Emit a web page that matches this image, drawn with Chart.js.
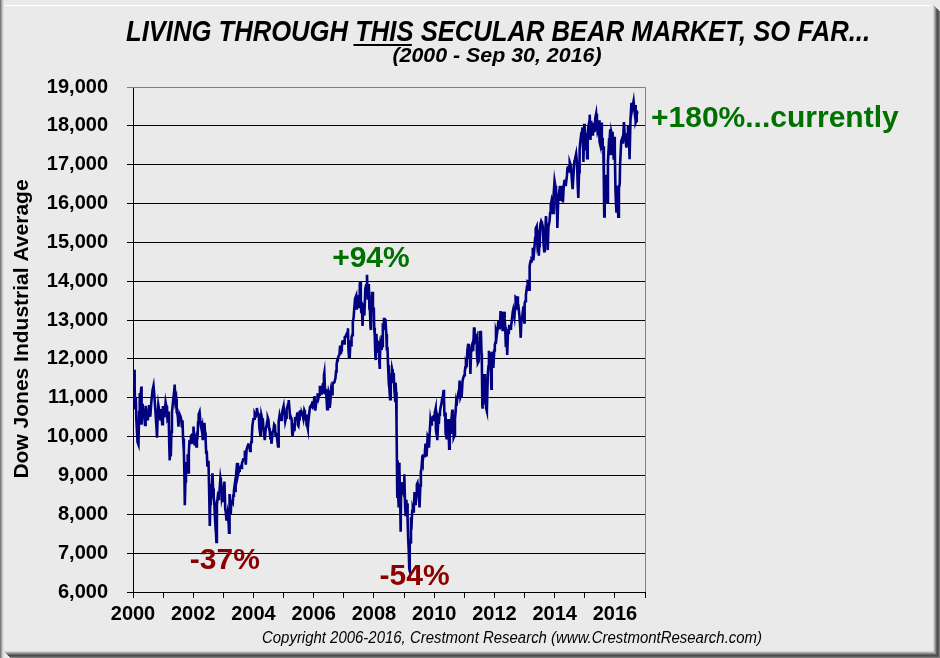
<!DOCTYPE html>
<html>
<head>
<meta charset="utf-8">
<script src="https://cdn.jsdelivr.net/npm/chart.js@4.4.0/dist/chart.umd.min.js"></script>
<style>
  html, body { margin: 0; padding: 0; background: #eaeaea; }
  canvas { display: block; }
</style>
</head>
<body>
<canvas id="dowChart" width="940" height="658"></canvas>
<script>
// Dow Jones Industrial Average, closes: [month-day, close]
const dj2000 = [['01-03',11357],['01-14',11723],['01-21',11251],['01-28',10739],['02-04',11013],['02-11',10425],['02-25',9862],['03-07',9796],['03-16',10630],['03-23',11120],['03-31',10922],['04-11',11287],['04-14',10306],['04-20',10844],['04-28',10734],['05-12',10609],['05-26',10300],['06-02',10794],['06-16',10449],['06-30',10448],['07-14',10812],['07-28',10511],['08-11',10908],['08-25',11192],['09-06',11310],['09-15',11087],['09-29',10651],['10-13',10193],['10-18',9975],['10-27',10590],['11-03',10817],['11-17',10629],['11-30',10415],['12-08',10712],['12-20',10318],['12-29',10787]];
const dj2001 = [['01-05',10662],['01-12',10526],['01-19',10587],['01-31',10887],['02-09',10781],['02-16',10799],['02-23',10441],['03-02',10466],['03-09',10644],['03-16',9823],['03-22',9389],['03-30',9879],['04-04',9485],['04-12',10127],['04-18',10616],['04-27',10811],['05-04',10952],['05-11',10821],['05-21',11337],['05-31',10912],['06-08',10977],['06-15',10623],['06-22',10604],['06-29',10502],['07-06',10253],['07-13',10539],['07-20',10577],['07-31',10523],['08-10',10417],['08-17',10240],['08-24',10423],['08-31',9950],['09-10',9606],['09-17',8921],['09-21',8236],['09-28',8848],['10-05',9120],['10-12',9345],['10-19',9205],['10-26',9545],['10-31',9075],['11-09',9608],['11-16',9867],['11-30',9852],['12-07',10049],['12-14',9812],['12-21',10036],['12-31',10022]];
const dj2002 = [['01-04',10260],['01-11',9987],['01-18',9772],['01-31',9920],['02-08',9745],['02-15',9904],['02-22',9968],['03-01',10369],['03-08',10572],['03-19',10635],['03-28',10404],['04-05',10271],['04-12',10191],['04-19',10257],['04-26',9911],['05-03',10006],['05-10',10054],['05-17',10353],['05-24',10105],['05-31',9925],['06-07',9589],['06-14',9633],['06-21',9253],['06-28',9243],['07-05',9380],['07-12',8684],['07-19',8019],['07-23',7702],['07-26',8264],['08-02',8314],['08-09',8745],['08-16',8778],['08-22',9053],['08-30',8664],['09-06',8427],['09-13',8312],['09-20',7986],['09-30',7592],['10-04',7528],['10-09',7286],['10-15',8255],['10-25',8443],['10-31',8397],['11-08',8537],['11-15',8579],['11-27',8931],['12-02',8862],['12-13',8433],['12-20',8511],['12-31',8342]];
const dj2003 = [['01-03',8602],['01-10',8785],['01-14',8843],['01-24',8131],['01-31',8054],['02-07',7865],['02-14',7909],['02-21',8019],['02-28',7891],['03-07',7740],['03-11',7524],['03-14',7859],['03-21',8522],['03-31',7992],['04-07',8300],['04-17',8338],['04-25',8307],['04-30',8480],['05-09',8604],['05-16',8713],['05-23',8601],['05-30',8850],['06-06',9062],['06-17',9323],['06-27',9011],['07-03',9070],['07-11',9120],['07-18',9189],['07-31',9233],['08-08',9191],['08-15',9321],['08-22',9349],['08-29',9416],['09-09',9420],['09-19',9644],['09-30',9275],['10-10',9675],['10-17',9722],['10-31',9801],['11-07',9810],['11-21',9629],['11-28',9782],['12-05',9863],['12-12',9998],['12-19',10278],['12-31',10454]];
const dj2004 = [['01-09',10458],['01-16',10600],['01-23',10568],['01-30',10488],['02-06',10593],['02-11',10738],['02-20',10620],['02-27',10584],['03-05',10596],['03-12',10240],['03-24',10048],['03-31',10358],['04-05',10558],['04-16',10452],['04-23',10473],['04-30',10226],['05-07',10118],['05-17',9907],['05-28',10188],['06-04',10242],['06-18',10416],['06-23',10479],['06-30',10435],['07-09',10214],['07-16',10140],['07-23',9962],['07-30',10140],['08-06',9815],['08-12',9815],['08-20',10111],['08-31',10174],['09-08',10314],['09-17',10284],['09-24',10047],['09-30',10080],['10-08',10055],['10-15',9934],['10-25',9750],['10-29',10027],['11-05',10388],['11-12',10540],['11-19',10457],['11-30',10428],['12-10',10544],['12-17',10661],['12-31',10783]];
const dj2005 = [['01-07',10604],['01-14',10559],['01-21',10393],['01-31',10490],['02-07',10715],['02-18',10785],['02-25',10841],['03-04',10941],['03-11',10774],['03-22',10471],['03-31',10504],['04-08',10462],['04-15',10088],['04-20',10012],['04-29',10193],['05-06',10345],['05-13',10141],['05-20',10471],['05-31',10467],['06-10',10513],['06-17',10624],['06-24',10297],['06-30',10275],['07-08',10450],['07-15',10641],['07-22',10651],['07-29',10641],['08-05',10558],['08-12',10600],['08-19',10559],['08-29',10463],['09-09',10679],['09-16',10641],['09-23',10420],['09-30',10569],['10-07',10292],['10-14',10287],['10-21',10215],['10-31',10440],['11-10',10640],['11-18',10766],['11-30',10806],['12-09',10779],['12-16',10876],['12-23',10883],['12-30',10718]];
const dj2006 = [['01-06',10959],['01-11',11043],['01-20',10667],['01-31',10865],['02-10',10920],['02-17',11115],['02-28',10993],['03-10',11076],['03-17',11279],['03-24',11280],['03-31',11109],['04-07',11120],['04-13',11137],['04-21',11347],['04-28',11367],['05-05',11578],['05-10',11642],['05-19',11144],['05-31',11168],['06-07',10932],['06-13',10706],['06-22',10990],['06-30',11150],['07-07',11091],['07-14',10739],['07-21',10868],['07-31',11186],['08-11',11089],['08-18',11382],['08-31',11381],['09-08',11393],['09-22',11508],['09-29',11679],['10-06',11851],['10-13',11961],['10-20',12003],['10-31',12081],['11-10',12109],['11-17',12342],['11-27',12121],['11-30',12222],['12-08',12307],['12-15',12446],['12-29',12463]];
const dj2007 = [['01-05',12398],['01-12',12557],['01-19',12565],['01-31',12622],['02-09',12580],['02-20',12787],['02-27',12216],['03-05',12051],['03-14',12075],['03-23',12481],['03-30',12354],['04-05',12560],['04-13',12612],['04-20',12962],['04-30',13063],['05-08',13309],['05-18',13556],['05-31',13628],['06-07',13267],['06-15',13639],['06-26',13338],['06-29',13409],['07-06',13612],['07-13',13908],['07-19',14000],['07-26',13474],['07-31',13212],['08-06',13468],['08-10',13240],['08-16',12846],['08-24',13379],['08-31',13358],['09-07',13113],['09-19',13816],['09-28',13896],['10-09',14165],['10-19',13522],['10-26',13807],['10-31',13930],['11-07',13300],['11-13',13307],['11-21',12800],['11-26',12743],['11-30',13372],['12-10',13727],['12-20',13246],['12-31',13265]];
const dj2008 = [['01-04',12800],['01-11',12606],['01-18',12099],['01-22',11971],['01-25',12207],['01-31',12650],['02-08',12183],['02-15',12348],['02-22',12381],['02-29',12266],['03-07',11894],['03-10',11740],['03-14',11951],['03-20',12361],['03-31',12263],['04-04',12609],['04-11',12325],['04-18',12849],['04-30',12820],['05-02',13058],['05-09',12745],['05-19',13028],['05-30',12638],['06-06',12210],['06-13',12307],['06-20',11843],['06-30',11350],['07-07',11231],['07-15',10963],['07-23',11632],['07-31',11378],['08-08',11734],['08-15',11659],['08-22',11628],['08-29',11544],['09-05',11220],['09-15',10917],['09-19',11388],['09-26',11143],['09-29',10365],['10-03',10325],['10-10',8451],['10-13',9387],['10-17',8852],['10-27',8176],['10-31',9325],['11-05',9139],['11-14',8497],['11-20',7552],['11-26',8727],['11-28',8829],['12-05',8635],['12-12',8629],['12-19',8579],['12-31',8776]];
const dj2009 = [['01-02',9034],['01-06',9015],['01-14',8200],['01-20',7950],['01-28',8375],['01-30',8001],['02-06',8281],['02-13',7850],['02-20',7366],['02-27',7063],['03-05',6595],['03-09',6547],['03-13',7224],['03-20',7279],['03-26',7925],['03-31',7609],['04-09',8083],['04-17',8132],['04-24',8076],['04-30',8168],['05-08',8575],['05-15',8268],['05-22',8277],['05-29',8500],['06-05',8764],['06-12',8799],['06-19',8539],['06-30',8447],['07-08',8179],['07-17',8743],['07-24',9093],['07-31',9172],['08-07',9370],['08-14',9321],['08-21',9505],['08-31',9496],['09-11',9605],['09-18',9820],['09-25',9666],['09-30',9712],['10-02',9487],['10-14',10016],['10-23',9972],['10-30',9713],['11-06',10023],['11-17',10437],['11-27',10310],['12-04',10388],['12-14',10501],['12-24',10520],['12-31',10428]];
const dj2010 = [['01-08',10618],['01-19',10725],['01-22',10172],['01-29',10067],['02-05',10013],['02-08',9908],['02-19',10402],['02-26',10325],['03-05',10567],['03-12',10625],['03-19',10742],['03-31',10857],['04-09',10998],['04-16',11019],['04-26',11205],['04-30',11009],['05-06',10520],['05-14',10621],['05-20',10069],['05-25',10044],['05-31',10137],['06-04',9932],['06-11',10212],['06-18',10451],['06-25',10144],['07-02',9686],['07-09',10198],['07-16',10098],['07-23',10425],['07-30',10466],['08-09',10698],['08-13',10303],['08-20',10214],['08-26',9986],['08-31',10015],['09-10',10463],['09-17',10608],['09-24',10861],['09-30',10788],['10-08',11006],['10-15',11063],['10-22',11133],['10-29',11118],['11-05',11445],['11-16',11024],['11-26',11093],['11-30',11006],['12-10',11410],['12-17',11492],['12-31',11578]];
const dj2011 = [['01-07',11675],['01-14',11787],['01-21',11872],['01-28',11824],['01-31',11892],['02-08',12234],['02-18',12391],['02-25',12130],['03-04',12170],['03-11',12044],['03-16',11613],['03-25',12221],['03-31',12320],['04-08',12380],['04-18',12202],['04-29',12811],['05-06',12639],['05-13',12596],['05-20',12512],['05-31',12570],['06-03',12152],['06-10',11952],['06-15',11897],['06-24',11934],['06-30',12414],['07-07',12719],['07-15',12480],['07-21',12724],['07-29',12143],['08-02',11867],['08-08',10810],['08-10',10720],['08-12',11270],['08-19',10817],['08-31',11614],['09-09',10992],['09-16',11509],['09-22',10733],['09-30',10913],['10-03',10655],['10-14',11645],['10-21',11809],['10-27',12209],['10-31',11955],['11-08',12170],['11-18',11796],['11-25',11231],['11-30',12046],['12-09',12184],['12-19',11766],['12-30',12218]];
const dj2012 = [['01-06',12360],['01-13',12422],['01-20',12720],['01-31',12633],['02-10',12801],['02-17',12950],['02-29',12952],['03-06',12759],['03-16',13233],['03-23',13081],['03-30',13212],['04-10',12716],['04-20',13029],['04-30',13214],['05-04',13038],['05-11',12821],['05-18',12369],['05-31',12393],['06-04',12101],['06-15',12767],['06-22',12640],['06-29',12880],['07-06',12772],['07-13',12777],['07-20',12822],['07-31',13009],['08-10',13207],['08-17',13275],['08-31',13091],['09-07',13306],['09-14',13593],['09-21',13579],['09-28',13437],['10-05',13610],['10-12',13328],['10-19',13343],['10-31',13096],['11-09',12815],['11-15',12542],['11-23',13010],['11-30',13026],['12-07',13155],['12-18',13351],['12-28',12938],['12-31',13104]];
const dj2013 = [['01-04',13435],['01-11',13488],['01-18',13650],['01-31',13861],['02-08',13993],['02-15',13982],['02-25',13784],['02-28',14054],['03-08',14397],['03-15',14514],['03-22',14512],['03-28',14579],['04-05',14565],['04-11',14865],['04-18',14537],['04-30',14840],['05-10',15118],['05-17',15354],['05-28',15409],['05-31',15116],['06-05',14960],['06-14',15070],['06-24',14660],['06-28',14910],['07-05',15136],['07-12',15464],['07-22',15545],['07-31',15500],['08-09',15426],['08-16',15081],['08-27',14776],['08-30',14810],['09-06',14922],['09-18',15676],['09-27',15258],['09-30',15130],['10-09',14802],['10-18',15400],['10-31',15546],['11-08',15762],['11-15',15962],['11-27',16097],['12-06',16020],['12-13',15755],['12-20',16221],['12-31',16577]];
const dj2014 = [['01-10',16437],['01-17',16459],['01-24',15880],['01-31',15699],['02-03',15373],['02-14',16154],['02-28',16322],['03-07',16453],['03-14',16066],['03-21',16303],['03-31',16458],['04-04',16413],['04-11',16027],['04-21',16449],['04-30',16581],['05-09',16584],['05-15',16447],['05-30',16717],['06-06',16924],['06-20',16948],['06-30',16827],['07-03',17068],['07-17',16977],['07-31',16563],['08-07',16369],['08-15',16663],['08-29',17098],['09-05',17138],['09-19',17280],['09-30',17043],['10-03',17010],['10-10',16544],['10-15',16142],['10-24',16805],['10-31',17391],['11-07',17574],['11-21',17810],['11-28',17828],['12-05',17959],['12-16',17068],['12-26',18053],['12-31',17823]];
const dj2015 = [['01-06',17371],['01-16',17512],['01-22',17814],['01-30',17165],['02-06',17824],['02-13',17973],['02-27',18133],['03-02',18288],['03-11',17635],['03-20',18128],['03-31',17776],['04-10',18058],['04-17',17826],['04-24',18080],['04-30',17841],['05-08',18191],['05-19',18312],['05-29',18011],['06-05',17849],['06-12',17899],['06-23',18144],['06-29',17597],['07-08',17515],['07-17',18086],['07-27',17440],['07-31',17690],['08-07',17373],['08-14',17477],['08-21',16460],['08-25',15666],['08-31',16528],['09-04',16102],['09-16',16740],['09-25',16315],['09-29',16049],['10-09',17084],['10-23',17646],['10-30',17664],['11-06',17910],['11-13',17245],['11-20',17824],['11-30',17720],['12-04',17848],['12-14',17368],['12-18',17128],['12-29',17720],['12-31',17425]];
const dj2016 = [['01-08',16346],['01-15',15988],['01-20',15766],['01-29',16466],['02-05',16205],['02-11',15660],['02-19',16392],['02-29',16517],['03-04',17007],['03-18',17602],['03-31',17685],['04-07',17542],['04-20',18096],['04-29',17774],['05-06',17740],['05-19',17436],['05-31',17787],['06-08',18005],['06-16',17733],['06-24',17400],['06-27',17140],['07-08',18147],['07-20',18595],['07-29',18432],['08-15',18636],['08-26',18395],['09-07',18538],['09-09',18085],['09-16',18124],['09-22',18392],['09-30',18308]];

const years = [2000, 2001, 2002, 2003, 2004, 2005, 2006, 2007, 2008, 2009, 2010, 2011, 2012, 2013, 2014, 2015, 2016];
const yearRows = [dj2000, dj2001, dj2002, dj2003, dj2004, dj2005, dj2006, dj2007, dj2008, dj2009, dj2010, dj2011, dj2012, dj2013, dj2014, dj2015, dj2016];
const xTickYears = [2000, 2002, 2004, 2006, 2008, 2010, 2012, 2014, 2016];

// callouts: text, anchored at (year, index level)
const callouts = [
    { text: '+94%', x: 2007.9, y: 14570, color: '#007000', align: 'center' },
    { text: '-37%', x: 2003.05, y: 6800, color: '#8b0000', align: 'center' },
    { text: '-54%', x: 2009.35, y: 6390, color: '#8b0000', align: 'center' },
    { text: '+180%...currently', x: 2017.2, y: 18190, color: '#007000', align: 'left' }
];

// year + fraction of year from 'MM-DD'
function toPoints(year, rows) {
    return rows.map(([md, v]) => {
        const [m, d] = md.split('-').map(Number);
        const doy = (Date.UTC(year, m - 1, d) - Date.UTC(year, 0, 1)) / 86400000;
        return { x: year + doy / 365.25, y: v };
    });
}
const points = years.flatMap((yr, i) => toPoints(yr, yearRows[i]));

const FONT = "'Liberation Sans', Arial, sans-serif";

// text squeezed to a given width (the original uses a narrow face)
function fitText(ctx, parts, font, cx, baseline, width, underlineIdx) {
    ctx.save();
    ctx.font = font;
    const full = parts.join('');
    const w = ctx.measureText(full).width;
    const k = width / w;
    ctx.translate(cx - width / 2, baseline);
    ctx.scale(k, 1);
    ctx.fillStyle = '#000';
    ctx.textAlign = 'left';
    ctx.textBaseline = 'alphabetic';
    ctx.fillText(full, 0, 0);
    if (underlineIdx != null) {
        const pre = ctx.measureText(parts.slice(0, underlineIdx).join('')).width;
        const uw = ctx.measureText(parts[underlineIdx]).width;
        ctx.fillRect(pre - 2, 3, uw, 2);
    }
    ctx.restore();
}

const framePlugin = {
    id: 'frame',
    beforeDraw(chart) {
        const ctx = chart.ctx;
        const W = chart.width, H = chart.height;
        ctx.save();
        ctx.fillStyle = '#eaeaea';
        ctx.fillRect(0, 0, W, H);
        // left edge
        ['#7a7a7a', '#a4a4a4', '#c8c8c8', '#dedede'].forEach((c, i) => {
            ctx.fillStyle = c; ctx.fillRect(i, 0, 1, H);
        });
        // top highlight
        ctx.fillStyle = '#ffffff';
        ctx.fillRect(4, 5, W - 12, 1);
        // right + bottom shadow
        const shade = ['#d4d4d4', '#b0b0b0', '#8a8a8a', '#666666', '#4c4c4c', '#5c5c5c', '#7e7e7e'];
        shade.forEach((c, i) => {
            ctx.fillStyle = c;
            ctx.fillRect(W - 7 + i, 5 + i, 1, H - 5 - i);
            ctx.fillRect(4 + i, H - 7 + i, W - 4 - i, 1);
        });
        ctx.restore();
    },
    afterDraw(chart) {
        const ctx = chart.ctx;
        const a = chart.chartArea;
        const xs = chart.scales.x, ys = chart.scales.y;
        ctx.save();
        // top and right plot border
        ctx.strokeStyle = '#808080';
        ctx.lineWidth = 1;
        ctx.beginPath();
        ctx.moveTo(a.left, a.top + 0.5);
        ctx.lineTo(a.right + 0.5, a.top + 0.5);
        ctx.lineTo(a.right + 0.5, a.bottom);
        ctx.stroke();

        // titles
        fitText(ctx, ['LIVING THROUGH ', 'THIS', ' SECULAR BEAR MARKET, SO FAR...'],
            'italic bold 30px ' + FONT, 498, 41, 744, 1);
        fitText(ctx, ['(2000 - Sep 30, 2016)'], 'italic bold 21px ' + FONT, 497, 62, 209);
        fitText(ctx, ['Copyright 2006-2016, Crestmont Research (www.CrestmontResearch.com)'],
            'italic 16px ' + FONT, 512, 643, 500);

        // y axis title
        ctx.save();
        ctx.translate(22, 329);
        ctx.rotate(-Math.PI / 2);
        ctx.font = 'bold 21px ' + FONT;
        ctx.fillStyle = '#000';
        ctx.textAlign = 'center';
        ctx.textBaseline = 'middle';
        ctx.fillText('Dow Jones Industrial Average', 0, 0);
        ctx.restore();

        // callouts
        ctx.font = 'bold 30px ' + FONT;
        ctx.textBaseline = 'middle';
        callouts.forEach(c => {
            ctx.fillStyle = c.color;
            ctx.textAlign = c.align;
            ctx.fillText(c.text, xs.getPixelForValue(c.x), ys.getPixelForValue(c.y));
        });
        ctx.restore();
    }
};

const ctx = document.getElementById('dowChart').getContext('2d');
new Chart(ctx, {
    type: 'line',
    data: {
        datasets: [{
            label: 'Dow Jones Industrial Average',
            data: points,
            borderColor: '#000080',
            borderWidth: 2.6,
            pointRadius: 0,
            tension: 0,
            fill: false
        }]
    },
    options: {
        responsive: false,
        animation: false,
        layout: { padding: { top: 87, right: 295, left: 0, bottom: 0 } },
        plugins: { legend: { display: false }, tooltip: { enabled: false } },
        scales: {
            x: {
                type: 'linear',
                min: 2000,
                max: 2017,
                ticks: {
                    stepSize: 1,
                    autoSkip: false,
                    maxRotation: 0,
                    padding: 4,
                    color: '#000',
                    font: { family: FONT, size: 20, weight: 'bold' },
                    callback: v => xTickYears.includes(v) ? String(v) : ''
                },
                grid: { drawOnChartArea: false, drawTicks: true, tickLength: 6, color: '#000' },
                border: { color: '#000', width: 1 },
                afterFit: s => { s.height = 66; }
            },
            y: {
                min: 6000,
                max: 19000,
                ticks: {
                    stepSize: 1000,
                    padding: 19,
                    color: '#000',
                    font: { family: FONT, size: 20, weight: 'bold' },
                    callback: v => v.toLocaleString('en-US')
                },
                grid: {
                    color: c => (c.tick && c.tick.value === 19000) ? '#808080' : '#000',
                    tickLength: 6,
                    lineWidth: 1
                },
                border: { color: '#000', width: 1 },
                afterFit: s => { s.width = 133; }
            }
        }
    },
    plugins: [framePlugin]
});
</script>
</body>
</html>
